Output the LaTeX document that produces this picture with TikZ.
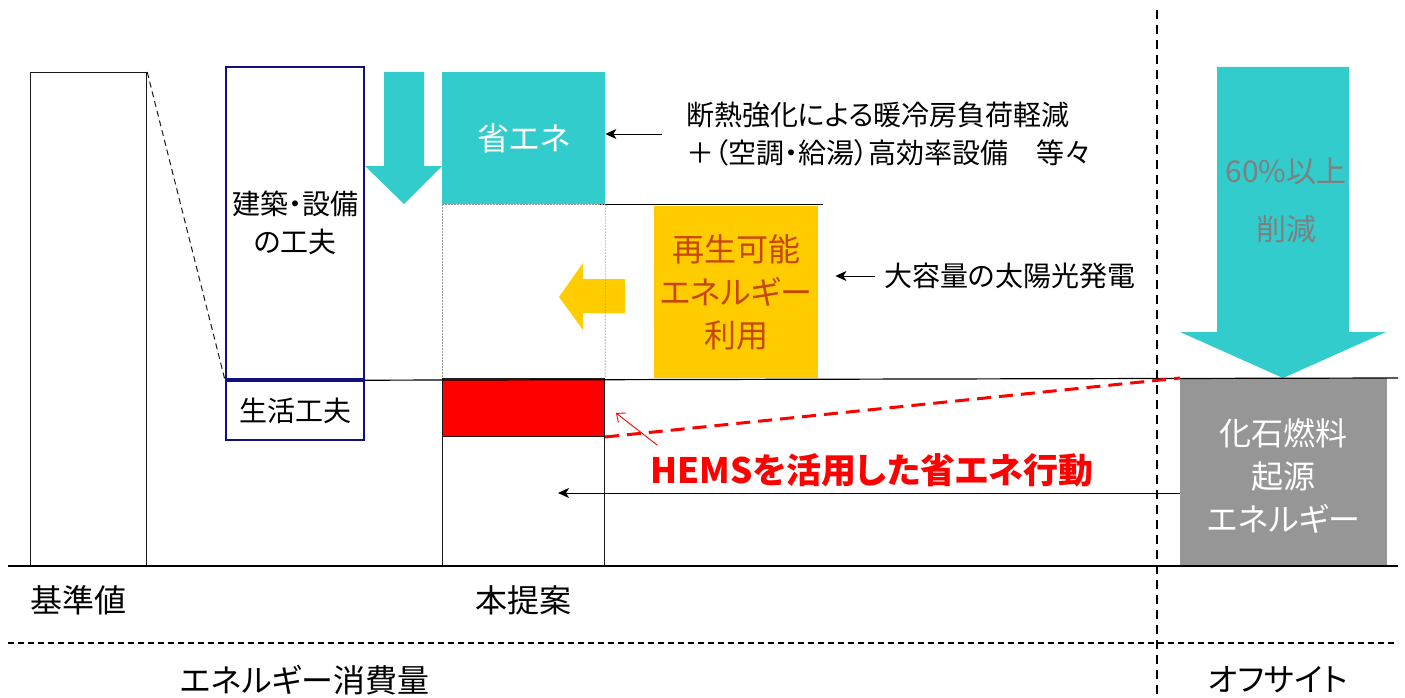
\documentclass[tikz,border=0pt]{standalone}
\usepackage{fontspec}
\setmainfont{Noto Sans CJK JP}[RawFeature=+palt]
\usepackage{tikz}
\usetikzlibrary{arrows.meta, positioning, calc}
\definecolor{aqua}{HTML}{33CCCC}
\definecolor{sun}{HTML}{FFCC00}
\definecolor{rust}{HTML}{C84605}
\definecolor{navy}{HTML}{10107F}
\definecolor{stone}{HTML}{969696}
\definecolor{mute}{HTML}{7F7F7F}
\definecolor{ink}{HTML}{1A1A1A}
\definecolor{guide}{HTML}{9A9A9A}
\newcommand{\jp}{\fontsize{28}{38}\selectfont}
\newcommand{\jpbig}{\fontsize{32}{43}\selectfont}
\tikzset{
  bar/.style     ={draw=ink, line width=1.2pt, fill=white, inner sep=0pt},
  navybox/.style ={draw=navy, line width=2.2pt, align=center, inner sep=0pt},
  block/.style   ={inner sep=0pt, align=center},
  note/.style    ={align=left, inner sep=0pt},
  axis/.style    ={draw=black, line width=1.2pt},
  cut/.style     ={draw=black, line width=1.8pt, dash pattern=on 9pt off 6pt},
  dotguide/.style={draw=guide, line width=0.6pt, dash pattern=on 1.5pt off 1.5pt},
  pointer/.style ={-{Stealth[length=11pt,width=10pt,inset=3pt]}, line width=0.9pt, draw=black},
  redptr/.style  ={-{Straight Barb[length=7pt,width=12pt]}, line width=0.9pt, draw=red},
  reddash/.style ={draw=red, line width=3pt, dash pattern=on 14pt off 8pt},
  tag/.style     ={font=\jpbig, inner sep=0pt}
}
\begin{document}
\begin{tikzpicture}[x=1pt, y=-1pt, node distance=10pt, font=\jp]
  \useasboundingbox (0,0) rectangle (1405,698);

  % bars
  \node[bar, minimum width=116pt, minimum height=494pt, anchor=north west] (base) at (30,72) {};
  \node[bar, minimum width=162pt, minimum height=188pt, anchor=north west] (plan) at (442,378) {};
  \node[fill=red, draw=ink, line width=1pt, inner sep=0pt, minimum width=162pt, minimum height=58pt, anchor=north west] (hemsbox) at (442,378) {};

  % measures
  \node[navybox, minimum width=138pt, minimum height=312pt, anchor=north west] (arch) at (225,66) {建築・設備\\の工夫};
  \node[navybox, minimum width=138pt, minimum height=59pt, anchor=north] (life) at (arch.south) {生活工夫};
  \node[block, font=\jpbig, fill=aqua, text=white, minimum width=163pt, minimum height=132pt, anchor=north west] (save) at (442,72) {省エネ};
  \node[block, font=\jpbig, fill=sun, text=rust, minimum width=164pt, minimum height=172pt, anchor=north west] (renew) at (654,206) {再生可能\\エネルギー\\利用};
  \node[block, font=\jpbig, fill=stone, text=white, minimum width=207pt, minimum height=188pt, anchor=north west] (fossil) at (1180,378) {\\[-8pt]化石燃料\\起源\\エネルギー};

  % block arrows
  \fill[aqua] (384,72) -- (424,72) -- (424,166) -- (442,166) -- (404,204) -- (365,166) -- (384,166) -- cycle;
  \fill[aqua] (1217,67) -- (1349,67) -- (1349,332) -- (1386,332) -- (1283,378) -- (1180,332) -- (1217,332) -- cycle;
  \fill[sun] (625,279) -- (625,313) -- (583,313) -- (583,330) -- (559,297) -- (583,263) -- (583,279) -- cycle;

  % notes
  \node[note, anchor=west] (insul) at (686,134) {断熱強化による暖冷房負荷軽減\\＋（空調・給湯）高効率設備　等々};
  \node[note, anchor=west] (pv) at (884,276) {大容量の太陽光発電};
  \node[inner sep=0pt, font=\fontsize{35}{40}\selectfont\bfseries, text=red] (hems) at (872,470) {HEMSを活用した省エネ行動};
  \node[block, font=\fontsize{30}{36}\selectfont, text=mute] (cut) at (1286,200) {60\%以上\\[22pt]削減};

  % axes
  \draw[axis] (8,566) -- (1398,566);
  \draw[axis] (life.north east) -- (1398,378);
  \draw[axis] ([xshift=-5pt]save.south east) -- ([xshift=5pt]save.south east -| renew.east);
  \draw[cut] (1157,10) -- (1157,698);
  \draw[cut, dash pattern=on 6pt off 4pt] (8,643) -- (1398,643);
  \draw[dotguide] (save.south west) -- (plan.north west);
  \draw[dotguide] (save.south east) -- (plan.north east);
  \draw[dotguide] (save.south west) -- (save.south east);
  \draw[ink, line width=1pt, dash pattern=on 6pt off 4pt] (base.north east) -- (arch.south west);

  % connectors
  \coordinate (hemstip) at (616,413);
  \coordinate (usetip) at (558,493);
  \draw[pointer] ([xshift=-24pt]insul.west) -- (insul.west -| save.east);
  \draw[pointer, shorten >=17pt] ([xshift=-9pt]pv.west) -- (pv.west -| renew.east);
  \draw[reddash] (hemsbox.south east) -- (fossil.north west);
  \draw[redptr] ([shift={(7pt,8pt)}]hems.north west) -- (hemstip);
  \draw[pointer] (fossil.west |- usetip) -- (usetip);

  % labels
  \node[tag] (lbase) at (78,600) {基準値};
  \node[tag] (lplan) at (523,600) {本提案};
  \node[tag] (lcons) at (305,680) {エネルギー消費量};
  \node[tag] (loff) at (1278,680) {オフサイト};
\end{tikzpicture}
\end{document}
